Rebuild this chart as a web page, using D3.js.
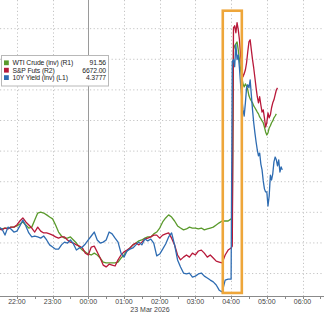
<!DOCTYPE html>
<html>
<head>
<meta charset="utf-8">
<script src="https://d3js.org/d3.v7.min.js"></script>
<style>
body {margin:0; background:#fff;}
text {font-family: "Liberation Sans", Arial, sans-serif;}
</style>
</head>
<body>
<div id="chart"></div>
<script>
// time grid: 5-minute bars up to the 04:00 jump, 2-minute bars after it
var preStart = new Date(2026, 2, 22, 21, 30), preStep = 5, preCount = 79;
var postStart = new Date(2026, 2, 23, 4, 2), postStep = 2, postCount = 43;

// all three series rebased to a common index (gridline every 10)
var wti = [14.7,14.4,14.7,14.7,15.0,15.0,15.4,16.0,16.7,15.7, 14.7,15.0,17.3,19.6,19.9,19.6,19.0,18.3,17.7,15.7,
  13.4,12.1,11.4,11.4,11.8,10.8,9.8,8.5,7.5,6.9, 6.2,5.9,6.5,5.9,4.9,3.6,3.3,3.3,3.3,3.3,
  3.6,4.9,5.9,7.2,8.2,9.2,9.8,10.5,10.8,11.4, 11.8,11.8,12.8,13.4,14.7,16.7,18.0,19.0,18.3,17.0,
  15.4,14.7,14.1,14.4,15.0,14.7,14.7,14.4,14.7,14.1, 14.4,14.7,15.0,15.7,16.4,17.0,17.0,17.0,17.7,
  18.0,72.9,74.2,74.9,75.5,72.9,69.7,66.4,63.8,61.8, 60.8,61.8,61.1,59.8,57.9,56.9,56.2,55.6,54.6,54.0,
  53.3,52.6,52.0,51.0,50.4,49.7,49.1,47.7,46.1,45.1, 45.8,47.4,48.1,49.1,49.7,50.7,51.3,52.0,null,null,
  null,null,null];

var spx = [14.4,14.1,14.7,14.4,15.0,15.0,15.7,17.0,18.0,16.7, 15.7,14.7,13.4,15.0,13.7,13.1,13.1,12.8,12.4,11.8,
  11.4,11.8,11.8,10.8,10.1,9.8,9.2,8.8,8.2,6.5, 5.9,8.5,8.8,6.9,4.9,2.6,2.0,2.9,2.6,2.3,
  4.3,5.9,6.9,7.5,8.2,9.2,9.8,9.2,10.1,11.1, 11.4,11.8,12.4,12.4,11.4,12.4,12.8,13.1,11.4,9.2,
  5.9,4.3,5.2,5.9,5.2,6.5,5.9,7.2,7.5,6.5, 5.2,5.9,4.9,3.9,3.6,3.3,5.9,7.5,8.2,
  8.8,80.1,80.8,78.5,81.8,79.5,76.2,71.0,67.0,64.1, 65.1,66.4,68.7,72.3,75.5,76.2,72.9,69.7,67.0,63.8,
  60.5,57.6,55.6,57.6,54.9,52.6,53.3,50.7,47.7,49.1, 52.3,50.7,51.7,54.0,55.6,56.6,58.2,59.8,60.5,null,
  null,null,null];

var yld = [15.0,14.4,12.4,15.0,14.4,13.4,13.7,15.4,17.3,15.4, 13.1,11.8,12.1,11.8,11.4,12.1,10.8,9.2,8.5,7.8,
  7.8,9.2,10.1,9.8,10.8,9.5,7.5,8.2,8.5,9.5, 10.8,12.1,13.4,10.8,9.8,10.1,10.8,13.4,12.8,11.4,
  10.1,6.5,5.2,7.2,7.8,8.2,9.2,10.1,9.2,11.1, 10.5,11.1,9.8,5.6,6.2,7.8,9.5,11.8,13.1,9.2,
  4.3,2.0,0,-0.3,0,-1.3,-1.0,-0.3,0,-1.0, -1.6,-2.3,-2.9,-3.9,-5.6,-6.2,-2.3,-2.0,-2.0,
  69.0,69.7,67.4,74.6,69.7,71.3,67.0,61.5,57.2,53.3, 51.3,55.6,60.5,61.5,60.5,63.1,58.2,53.3,49.1,45.8,
  42.8,40.2,38.3,39.2,35.6,33.7,30.1,27.5,26.5,26.5, 21.9,25.2,32.0,30.4,32.4,36.3,37.9,37.0,35.0,37.0,
  33.0,34.7,33.7];

var seriesNames = ["WTI Crude (inv) (R1)", "S&P Futs (R2)", "10Y Yield (inv) (L1)"];
var lastValues = ["91.56", "6672.00", "4.3777"];
var colors = ["#5a9a2c", "#b8193a", "#2e6cb2"];

var tickLabels = ["22:00","23:00","00:00","01:00","02:00","03:00","04:00","05:00","06:00"];
var dateLabel = "23 Mar 2026";
var gridValues = [0,10,20,30,40,50,60,70,80];

// highlighted window around the jump
var boxFrom = new Date(2026, 2, 23, 3, 46), boxTo = new Date(2026, 2, 23, 4, 18);
var boxTop = 85.7, boxBottom = -6.5;

var width = 324, height = 313, plotH = 296;

var times = [];
for (var i = 0; i < preCount; i++) times.push(d3.timeMinute.offset(preStart, i * preStep));
for (var i = 0; i < postCount; i++) times.push(d3.timeMinute.offset(postStart, i * postStep));

var x = d3.scaleTime()
  .domain([new Date(2026, 2, 22, 21, 31, 36), new Date(2026, 2, 23, 6, 36, 7)])
  .range([0, width]);
var y = d3.scaleLinear().domain([-7.5, 89.2]).range([plotH, 0]);

var svg = d3.select("#chart").append("svg")
  .attr("width", width).attr("height", height);

var tickTimes = tickLabels.map(function(d, i) { return d3.timeHour.offset(new Date(2026, 2, 22, 22), i); });

// gridlines
svg.append("g").selectAll("line").data(gridValues).enter().append("line")
  .attr("x1", 0).attr("x2", width)
  .attr("y1", function(d) { return y(d) + 0.5; }).attr("y2", function(d) { return y(d) + 0.5; })
  .attr("stroke", "#c4c4c4").attr("stroke-dasharray", "1.2,2.4");

svg.append("g").selectAll("line").data(tickTimes).enter().append("line")
  .attr("x1", function(d) { return Math.round(x(d)) + 0.5; })
  .attr("x2", function(d) { return Math.round(x(d)) + 0.5; })
  .attr("y1", 0).attr("y2", plotH)
  .attr("stroke", function(d) { return d.getHours() == 0 ? "#9a9a9a" : "#c4c4c4"; })
  .attr("stroke-dasharray", function(d) { return d.getHours() == 0 ? null : "1.2,2.4"; });

// x axis
var axis = svg.append("g").attr("transform", "translate(0," + (plotH + 0.5) + ")");
axis.append("line").attr("x1", 0).attr("x2", width).attr("stroke", "#8a8a8a");
var halfHours = d3.timeMinute.every(30).range(x.domain()[0], x.domain()[1]);
axis.selectAll(".mt").data(halfHours).enter().append("line")
  .attr("x1", function(d) { return Math.round(x(d)) + 0.5; })
  .attr("x2", function(d) { return Math.round(x(d)) + 0.5; })
  .attr("y1", 0).attr("y2", 2.5).attr("stroke", "#8a8a8a");
axis.selectAll("text").data(tickTimes).enter().append("text")
  .attr("x", function(d) { return x(d); }).attr("y", 7)
  .attr("text-anchor", "middle").attr("font-size", "7px").attr("fill", "#444")
  .text(function(d, i) { return tickLabels[i]; });
svg.append("text").attr("x", 150).attr("y", 311.5)
  .attr("text-anchor", "middle").attr("font-size", "7px").attr("fill", "#444")
  .text(dateLabel);

// lines
var allSeries = [wti, spx, yld];
var line = d3.line()
  .defined(function(d) { return d != null; })
  .x(function(d, i) { return x(times[i]); })
  .y(function(d) { return y(d); });

svg.append("g").selectAll("path").data(allSeries).enter().append("path")
  .attr("d", line)
  .attr("fill", "none")
  .attr("stroke", function(d, i) { return colors[i]; })
  .attr("stroke-width", 1.3)
  .attr("stroke-linejoin", "round");

// orange annotation box
svg.append("rect")
  .attr("x", x(boxFrom)).attr("y", y(boxTop))
  .attr("width", x(boxTo) - x(boxFrom)).attr("height", y(boxBottom) - y(boxTop))
  .attr("fill", "none").attr("stroke", "#eea63a").attr("stroke-width", 2.6);

// legend
var legend = svg.append("g").attr("transform", "translate(1.5,55.5)");
legend.append("rect").attr("width", 107).attr("height", 30.5)
  .attr("fill", "#fff").attr("stroke", "#b8b8b8");
var rows = legend.selectAll(".row").data(seriesNames).enter().append("g")
  .attr("transform", function(d, i) { return "translate(0," + (7.3 + i * 7.4) + ")"; });
rows.append("rect").attr("x", 2.5).attr("y", -2.4).attr("width", 4.8).attr("height", 4.8)
  .attr("fill", function(d, i) { return colors[i]; });
rows.append("text").attr("x", 11).attr("y", 2.6).attr("font-size", "6.8px").attr("fill", "#222")
  .attr("letter-spacing", "-0.12px")
  .text(function(d) { return d; });
rows.append("text").attr("x", 104.5).attr("y", 2.6).attr("font-size", "6.8px").attr("fill", "#222")
  .attr("letter-spacing", "-0.12px").attr("text-anchor", "end")
  .text(function(d, i) { return lastValues[i]; });
</script>
</body>
</html>
